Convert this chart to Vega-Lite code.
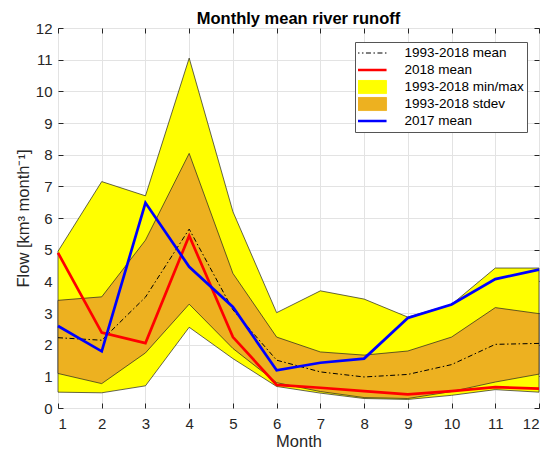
{
  "$schema": "https://vega.github.io/schema/vega-lite/v6.json",
  "width": 481,
  "height": 380,
  "autosize": "none",
  "padding": {"left": 58, "top": 28, "right": 8, "bottom": 44},
  "background": "white",
  "title": {
    "text": "Monthly mean river runoff",
    "font": "Liberation Sans",
    "fontSize": 16.5,
    "fontWeight": "bold",
    "color": "#000000",
    "anchor": "middle",
    "offset": -6
  },
  "config": {
    "view": {"stroke": "#262626", "strokeWidth": 1},
    "axis": {
      "domain": false,
      "grid": true,
      "gridColor": "#e3e3e3",
      "gridWidth": 1,
      "ticks": true,
      "tickSize": -5,
      "tickColor": "#262626",
      "labelFont": "Liberation Sans",
      "labelFontSize": 15,
      "labelColor": "#262626",
      "titleFont": "Liberation Sans",
      "titleFontSize": 16.5,
      "titleFontWeight": "normal",
      "titleColor": "#262626"
    }
  },
  "datasets": {
    "bands": [
      {"month": 1, "series": "1993-2018 min/max", "lo": 0.5, "hi": 4.95},
      {"month": 2, "series": "1993-2018 min/max", "lo": 0.48, "hi": 7.15},
      {"month": 3, "series": "1993-2018 min/max", "lo": 0.7, "hi": 6.7},
      {"month": 4, "series": "1993-2018 min/max", "lo": 2.55, "hi": 11.05},
      {"month": 5, "series": "1993-2018 min/max", "lo": 1.56, "hi": 6.2},
      {"month": 6, "series": "1993-2018 min/max", "lo": 0.68, "hi": 3.01},
      {"month": 7, "series": "1993-2018 min/max", "lo": 0.47, "hi": 3.7},
      {"month": 8, "series": "1993-2018 min/max", "lo": 0.3, "hi": 3.44},
      {"month": 9, "series": "1993-2018 min/max", "lo": 0.27, "hi": 2.87},
      {"month": 10, "series": "1993-2018 min/max", "lo": 0.4, "hi": 3.27},
      {"month": 11, "series": "1993-2018 min/max", "lo": 0.58, "hi": 4.42},
      {"month": 12, "series": "1993-2018 min/max", "lo": 0.5, "hi": 4.42},
      {"month": 1, "series": "1993-2018 stdev", "lo": 1.09, "hi": 3.4},
      {"month": 2, "series": "1993-2018 stdev", "lo": 0.77, "hi": 3.51},
      {"month": 3, "series": "1993-2018 stdev", "lo": 1.74, "hi": 5.3},
      {"month": 4, "series": "1993-2018 stdev", "lo": 3.28, "hi": 8.04},
      {"month": 5, "series": "1993-2018 stdev", "lo": 1.88, "hi": 4.25},
      {"month": 6, "series": "1993-2018 stdev", "lo": 0.8, "hi": 2.24},
      {"month": 7, "series": "1993-2018 stdev", "lo": 0.52, "hi": 1.77},
      {"month": 8, "series": "1993-2018 stdev", "lo": 0.33, "hi": 1.67},
      {"month": 9, "series": "1993-2018 stdev", "lo": 0.3, "hi": 1.8},
      {"month": 10, "series": "1993-2018 stdev", "lo": 0.52, "hi": 2.24},
      {"month": 11, "series": "1993-2018 stdev", "lo": 0.82, "hi": 3.17},
      {"month": 12, "series": "1993-2018 stdev", "lo": 1.07, "hi": 2.98}
    ],
    "lines": [
      {"month": 1, "series": "1993-2018 mean", "value": 2.22},
      {"month": 2, "series": "1993-2018 mean", "value": 2.14},
      {"month": 3, "series": "1993-2018 mean", "value": 3.5},
      {"month": 4, "series": "1993-2018 mean", "value": 5.65},
      {"month": 5, "series": "1993-2018 mean", "value": 3.1},
      {"month": 6, "series": "1993-2018 mean", "value": 1.51},
      {"month": 7, "series": "1993-2018 mean", "value": 1.14},
      {"month": 8, "series": "1993-2018 mean", "value": 0.98},
      {"month": 9, "series": "1993-2018 mean", "value": 1.06},
      {"month": 10, "series": "1993-2018 mean", "value": 1.37},
      {"month": 11, "series": "1993-2018 mean", "value": 2.01},
      {"month": 12, "series": "1993-2018 mean", "value": 2.04},
      {"month": 1, "series": "2018 mean", "value": 4.9},
      {"month": 2, "series": "2018 mean", "value": 2.38},
      {"month": 3, "series": "2018 mean", "value": 2.05},
      {"month": 4, "series": "2018 mean", "value": 5.44},
      {"month": 5, "series": "2018 mean", "value": 2.24},
      {"month": 6, "series": "2018 mean", "value": 0.73},
      {"month": 7, "series": "2018 mean", "value": 0.64},
      {"month": 8, "series": "2018 mean", "value": 0.53},
      {"month": 9, "series": "2018 mean", "value": 0.43},
      {"month": 10, "series": "2018 mean", "value": 0.53},
      {"month": 11, "series": "2018 mean", "value": 0.66},
      {"month": 12, "series": "2018 mean", "value": 0.61},
      {"month": 1, "series": "2017 mean", "value": 2.59},
      {"month": 2, "series": "2017 mean", "value": 1.79},
      {"month": 3, "series": "2017 mean", "value": 6.48},
      {"month": 4, "series": "2017 mean", "value": 4.46},
      {"month": 5, "series": "2017 mean", "value": 3.19},
      {"month": 6, "series": "2017 mean", "value": 1.19},
      {"month": 7, "series": "2017 mean", "value": 1.43},
      {"month": 8, "series": "2017 mean", "value": 1.56},
      {"month": 9, "series": "2017 mean", "value": 2.84},
      {"month": 10, "series": "2017 mean", "value": 3.27},
      {"month": 11, "series": "2017 mean", "value": 4.07},
      {"month": 12, "series": "2017 mean", "value": 4.37}
    ]
  },
  "resolve": {"axis": {"x": "independent", "y": "independent"}},
  "layer": [
    {
      "data": {"name": "bands"},
      "transform": [{"filter": "datum.series === '1993-2018 min/max'"}],
      "mark": {"type": "area", "stroke": "#222222", "strokeWidth": 0.7, "opacity": 1, "fillOpacity": 1},
      "encoding": {
        "x": {
          "field": "month", "type": "quantitative",
          "scale": {"domain": [1, 12], "nice": false},
          "axis": {"orient": "bottom", "values": [1,2,3,4,5,6,7,8,9,10,11,12], "format": "d", "labelPadding": 13, "title": "Month", "titlePadding": 2}
        },
        "y": {
          "field": "lo", "type": "quantitative",
          "scale": {"domain": [0, 12], "nice": false},
          "axis": {"orient": "left", "values": [0,1,2,3,4,5,6,7,8,9,10,11,12], "format": "d", "labelPadding": 11, "title": "Flow [km³ month⁻¹]", "titlePadding": 4}
        },
        "y2": {"field": "hi"},
        "fill": {"value": "#FFFF00"}
      }
    },
    {
      "data": {"name": "bands"},
      "transform": [{"filter": "datum.series === '1993-2018 stdev'"}],
      "mark": {"type": "area", "stroke": "#222222", "strokeWidth": 0.7, "opacity": 1, "fillOpacity": 1},
      "encoding": {
        "x": {
          "field": "month", "type": "quantitative",
          "axis": {"orient": "top", "values": [1,2,3,4,5,6,7,8,9,10,11,12], "labels": false, "grid": false, "title": null}
        },
        "y": {
          "field": "lo", "type": "quantitative",
          "axis": {"orient": "right", "values": [0,1,2,3,4,5,6,7,8,9,10,11,12], "labels": false, "grid": false, "title": null}
        },
        "y2": {"field": "hi"},
        "fill": {"value": "#EDB120"}
      }
    },
    {
      "data": {"name": "lines"},
      "transform": [{"filter": "datum.series === '1993-2018 mean'"}],
      "mark": {"type": "line", "strokeWidth": 1, "strokeDash": [5, 2.5, 1.5, 2.5]},
      "encoding": {
        "x": {"field": "month", "type": "quantitative", "axis": null},
        "y": {"field": "value", "type": "quantitative", "axis": null},
        "stroke": {
          "field": "series", "type": "nominal",
          "scale": {
            "domain": ["1993-2018 mean", "2018 mean", "1993-2018 min/max", "1993-2018 stdev", "2017 mean"],
            "range": ["#000000", "#FF0000", "#FFFF00", "#EDB120", "#0000FF"]
          },
          "legend": {
            "orient": "none",
            "legendX": 297,
            "legendY": 14,
            "title": null,
            "fillColor": "white",
            "strokeColor": "#555555",
            "padding": 3,
            "labelFont": "Liberation Sans",
            "labelFontSize": 13.5,
            "labelColor": "#000000",
            "symbolSize": 1900,
            "symbolOffset": 0,
            "labelOffset": 33,
            "clipHeight": 16,
            "rowPadding": 1,
            "symbolOpacity": 1,
            "encode": {
              "symbols": {
                "update": {
                  "shape": {"signal": "datum.value === '1993-2018 min/max' || datum.value === '1993-2018 stdev' ? 'M-1,-0.3H1V0.3H-1Z' : 'M-1,0H1'"},
                  "fill": {"signal": "datum.value === '1993-2018 min/max' ? '#FFFF00' : datum.value === '1993-2018 stdev' ? '#EDB120' : 'transparent'"},
                  "stroke": {"signal": "datum.value === '2018 mean' ? '#FF0000' : datum.value === '2017 mean' ? '#0000FF' : '#222222'"},
                  "strokeWidth": {"signal": "datum.value === '2018 mean' || datum.value === '2017 mean' ? 2.5 : 1"},
                  "strokeDash": {"signal": "datum.value === '1993-2018 mean' ? [5, 2.5, 1.5, 2.5] : [1, 0]"},
                  "opacity": {"value": 1}
                }
              }
            }
          }
        }
      }
    },
    {
      "data": {"name": "lines"},
      "transform": [{"filter": "datum.series === '2018 mean'"}],
      "mark": {"type": "line", "strokeWidth": 2.7},
      "encoding": {
        "x": {"field": "month", "type": "quantitative", "axis": null},
        "y": {"field": "value", "type": "quantitative", "axis": null},
        "stroke": {"value": "#FF0000"}
      }
    },
    {
      "data": {"name": "lines"},
      "transform": [{"filter": "datum.series === '2017 mean'"}],
      "mark": {"type": "line", "strokeWidth": 2.7},
      "encoding": {
        "x": {"field": "month", "type": "quantitative", "axis": null},
        "y": {"field": "value", "type": "quantitative", "axis": null},
        "stroke": {"value": "#0000FF"}
      }
    }
  ]
}
